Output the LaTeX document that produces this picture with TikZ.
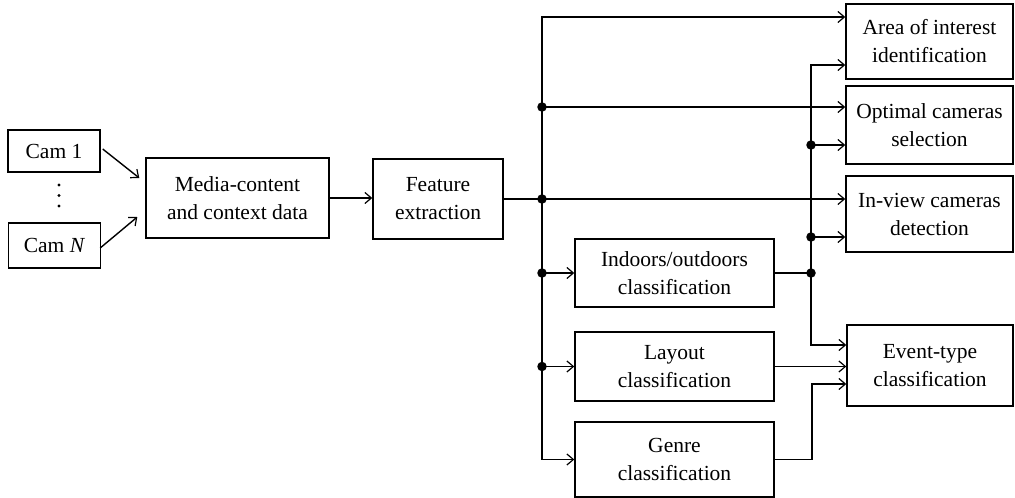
\documentclass[tikz,border=0pt]{standalone}
\usepackage{fontspec}
\setmainfont{Liberation Serif}
\usetikzlibrary{arrows.meta,calc}
\begin{document}
\begin{tikzpicture}[x=1pt,y=-1pt,
  box/.style={draw=black,line width=1.4pt,align=center,inner sep=0pt,
    font=\fontsize{21.5}{28}\selectfont},
  conn/.style={draw=black,line width=1.4pt},
  arr/.style={conn,-{Straight Barb[length=6.5pt,width=11pt,line width=1.2pt]}},
  darr/.style={conn,{Straight Barb[length=6.5pt,width=11pt,line width=1.2pt]}-{Straight Barb[length=6.5pt,width=11pt,line width=1.2pt]}},
  jdot/.style={fill=black,circle,inner sep=0pt,minimum size=9.5pt}]
\useasboundingbox (0,0) rectangle (1015,498);
% nodes
\node[box,minimum width=92pt,minimum height=42pt] (cam1) at (54,151) {Cam 1};
\node[box,minimum width=92pt,minimum height=45pt] (camN) at (54.5,245.5) {Cam \textit{N}};
\node[box,minimum width=183pt,minimum height=80pt] (media) at (237.5,198) {Media-content\\and context data};
\node[box,minimum width=130pt,minimum height=80pt] (feature) at (438,199) {Feature\\extraction};
\node[box,minimum width=167pt,minimum height=75pt] (area) at (929.5,41.5) {Area of interest\\identification};
\node[box,minimum width=167pt,minimum height=78pt] (optimal) at (929.5,125) {Optimal cameras\\selection};
\node[box,minimum width=167pt,minimum height=76pt] (inview) at (929.5,214) {In-view cameras\\detection};
\node[box,minimum width=166pt,minimum height=81pt] (event) at (930,365.5) {Event-type\\classification};
\node[box,minimum width=199pt,minimum height=68pt] (indoors) at (674.5,273) {Indoors/outdoors\\classification};
\node[box,minimum width=199pt,minimum height=69pt] (layout) at (674.5,366.5) {Layout\\classification};
\node[box,minimum width=199pt,minimum height=75pt] (genre) at (674.5,459.5) {Genre\\classification};
% vertical dots
\fill (59,185) circle (1.6pt);
\fill (59,195.5) circle (1.6pt);
\fill (59,206) circle (1.6pt);
% bus x positions
\coordinate (bx) at (542,0);
\coordinate (cx) at (811,0);
% cameras to media
\draw[arr] ($(cam1.east)+(2,-2)$) -- ($(media.west)+(-6,-20)$);
\draw[arr] ($(camN.east)+(-1,2.5)$) -- ($(media.west)+(-8,19)$);
\draw[arr] (media.east) -- (media.east -| feature.west);
% main bus
\coordinate (a1) at ($(area.west)+(0,-24.5)$);
\draw[darr] (a1) -- (a1 -| bx) -- (genre.west -| bx) -- (genre.west);
\draw[arr] (feature.east) -- (feature.east -| inview.west);
\node[jdot] (d1) at (feature.east -| bx) {};
\coordinate (o1) at ($(optimal.west)+(0,-18)$);
\node[jdot] (d2) at (o1 -| bx) {};
\draw[arr] (d2.center) -- (o1);
\node[jdot] (d3) at (indoors.west -| bx) {};
\draw[arr] (d3.center) -- (indoors.west);
\node[jdot] (d4) at (layout.west -| bx) {};
\draw[arr] (d4.center) -- (layout.west);
% second bus
\coordinate (a2) at ($(area.west)+(0,23.5)$);
\coordinate (e1) at ($(event.west)+(0,-20.5)$);
\draw[darr] (a2) -- (a2 -| cx) -- (e1 -| cx) -- (e1);
\node[jdot] (d5) at (indoors.east -| cx) {};
\draw[conn] (indoors.east) -- (d5.center);
\coordinate (o2) at ($(optimal.west)+(0,20)$);
\node[jdot] (d6) at (o2 -| cx) {};
\draw[arr] (d6.center) -- (o2);
\coordinate (i2) at ($(inview.west)+(0,23)$);
\node[jdot] (d7) at (i2 -| cx) {};
\draw[arr] (d7.center) -- (i2);
% layout and genre to event
\draw[arr] (layout.east) -- (layout.east -| event.west);
\coordinate (e3) at ($(event.west)+(0,18.5)$);
\coordinate (gx) at (812,0);
\draw[arr] (genre.east) -- (genre.east -| gx) -- (e3 -| gx) -- (e3);
\end{tikzpicture}
\end{document}
